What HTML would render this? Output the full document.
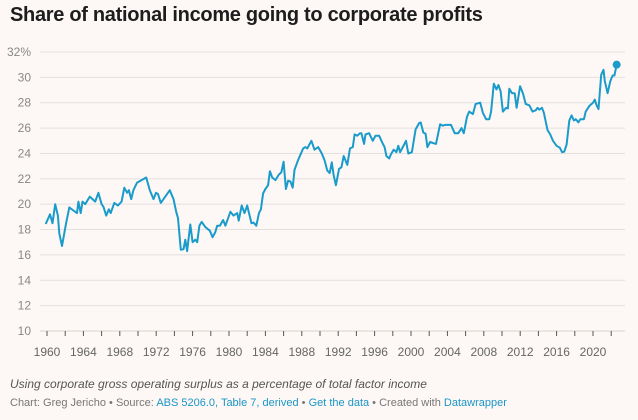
<!DOCTYPE html>
<html><head><meta charset="utf-8"><style>
body{margin:0;background:#fdf8f5;font-family:"Liberation Sans",sans-serif;}
#wrap{position:relative;width:638px;height:420px;overflow:hidden;background:#fdf8f5;}
h1{position:absolute;left:10px;top:4px;margin:0;font-size:20px;font-weight:bold;color:#1d1d1d;letter-spacing:-0.3px;}
.cap{position:absolute;left:10px;top:377px;font-size:12px;font-style:italic;color:#555;}
.credit{position:absolute;left:10px;top:397px;font-size:11px;color:#777;}
.credit a{color:#1b96c6;text-decoration:none;}
</style></head><body>
<div id="wrap">
<h1>Share of national income going to corporate profits</h1>
<svg id="chart" width="638" height="420" style="position:absolute;left:0;top:0"></svg>
<div class="cap">Using corporate gross operating surplus as a percentage of total factor income</div>
<div class="credit">Chart: Greg Jericho • Source: <a>ABS 5206.0, Table 7, derived</a> • <a>Get the data</a> • Created with <a>Datawrapper</a></div>
</div>
<script>
const years=[1959.86,1960.33,1960.6,1960.9,1961.2,1961.35,1961.65,1962.1,1962.45,1962.9,1963.3,1963.45,1963.7,1963.9,1964.2,1964.7,1965.3,1965.65,1966.0,1966.2,1966.5,1966.8,1967.0,1967.4,1967.8,1968.2,1968.5,1968.8,1969.0,1969.25,1969.5,1969.9,1970.4,1970.9,1971.3,1971.7,1971.98,1972.2,1972.5,1973.0,1973.5,1973.9,1974.2,1974.4,1974.7,1975.0,1975.2,1975.4,1975.75,1976.0,1976.3,1976.5,1976.75,1977.0,1977.4,1977.9,1978.2,1978.5,1978.7,1979.0,1979.35,1979.6,1980.15,1980.5,1980.9,1981.07,1981.4,1981.7,1982.0,1982.2,1982.47,1982.7,1983.0,1983.3,1983.5,1983.75,1984.0,1984.3,1984.5,1984.75,1985.1,1985.5,1985.75,1986.0,1986.25,1986.5,1986.75,1987.0,1987.2,1987.6,1988.15,1988.4,1988.6,1989.05,1989.4,1989.8,1990.2,1990.5,1990.8,1991.07,1991.3,1991.5,1991.75,1992.1,1992.35,1992.6,1993.0,1993.3,1993.6,1993.8,1994.1,1994.4,1994.55,1994.85,1995.0,1995.4,1995.8,1996.1,1996.5,1996.85,1997.1,1997.3,1997.6,1997.8,1998.1,1998.4,1998.6,1998.8,1999.1,1999.45,1999.7,2000.1,2000.5,2000.9,2001.07,2001.35,2001.6,2001.8,2002.1,2002.5,2002.75,2003.2,2003.45,2003.8,2004.4,2004.8,2005.2,2005.55,2005.8,2006.15,2006.4,2006.8,2007.1,2007.6,2007.9,2008.25,2008.6,2008.8,2009.1,2009.4,2009.6,2009.85,2010.1,2010.45,2010.65,2010.8,2011.1,2011.4,2011.6,2011.99,2012.3,2012.6,2013.0,2013.35,2013.7,2013.9,2014.1,2014.4,2014.6,2015.0,2015.3,2015.6,2016.0,2016.35,2016.6,2016.85,2017.1,2017.4,2017.65,2017.9,2018.1,2018.4,2018.6,2019.0,2019.2,2019.6,2020.0,2020.2,2020.4,2020.6,2020.9,2021.15,2021.3,2021.6,2021.9,2022.15,2022.35,2022.6];
const shares=[18.44,19.2,18.5,20.0,19.1,17.7,16.7,18.5,19.75,19.5,19.3,20.2,19.3,20.2,20.0,20.6,20.2,20.9,20.0,19.8,19.1,19.6,19.3,20.1,19.9,20.2,21.3,20.9,21.1,20.4,21.1,21.7,21.9,22.1,21.1,20.4,20.9,20.8,20.1,20.6,21.1,20.4,19.4,18.9,16.4,16.45,17.2,16.3,18.4,17.0,17.2,17.0,18.3,18.6,18.2,17.9,17.4,17.8,18.3,18.3,18.75,18.3,19.4,19.1,19.3,18.7,19.9,19.3,19.9,19.3,18.5,18.55,18.3,19.3,19.6,20.85,21.2,21.5,22.6,22.1,21.9,22.35,22.5,23.35,21.2,21.85,21.8,21.3,22.7,23.5,24.4,24.5,24.4,25.0,24.3,24.5,24.0,23.45,22.65,22.45,23.3,22.3,21.5,22.8,22.9,23.8,23.1,24.4,24.5,25.5,25.4,25.6,25.6,24.75,25.5,25.6,25.0,25.4,25.4,24.85,24.5,23.8,23.6,23.95,24.3,24.1,24.6,24.1,24.5,25.0,24.0,24.1,25.9,26.4,26.45,25.65,25.55,24.5,24.9,24.8,24.75,26.3,26.2,26.25,26.25,25.6,25.6,26.0,25.6,26.9,27.3,27.1,27.9,28.0,27.2,26.7,26.7,27.3,29.5,29.05,29.4,28.9,27.3,27.6,27.55,29.1,28.75,28.75,27.6,29.3,28.75,27.9,27.8,27.3,27.4,27.6,27.45,27.6,27.2,25.85,25.5,25.0,24.6,24.45,24.1,24.15,24.7,26.6,27.0,26.6,26.7,26.45,26.7,26.7,27.3,27.75,28.0,28.25,27.8,27.5,30.2,30.6,29.7,28.75,29.7,30.15,30.15,31.0];
const yTicks=[10,12,14,16,18,20,22,24,26,28,30,32];
const xTickLabels=[1960,1964,1968,1972,1976,1980,1984,1988,1992,1996,2000,2004,2008,2012,2016,2020];
const xMinor=[1960,1962,1964,1966,1968,1970,1972,1974,1976,1978,1980,1982,1984,1986,1988,1990,1992,1994,1996,1998,2000,2002,2004,2006,2008,2010,2012,2014,2016,2018,2020,2022];

const NS='http://www.w3.org/2000/svg';
const svg=document.getElementById('chart');
const X=t=>47+(t-1960)*9.1;
const Y=v=>331-(v-10)*(279/22);
function mk(tag,attrs){const e=document.createElementNS(NS,tag);for(const k in attrs)e.setAttribute(k,attrs[k]);svg.appendChild(e);return e;}
yTicks.forEach(v=>{
  const g=mk('line',{x1:40,x2:625,y1:Y(v),y2:Y(v),stroke:v===10?'#d8d4d0':'#e4e0dd','stroke-width':1});
  
  
  const t=mk('text',{x:31,y:Y(v)+4,'text-anchor':'end','font-size':12,fill:'#888','font-family':'Liberation Sans, sans-serif'});
  t.textContent=v===32?'32%':String(v);
  
  
});
xMinor.forEach(yr=>{
  const l=mk('line',{x1:X(yr),x2:X(yr),y1:331,y2:336,stroke:'#555','stroke-width':1});
  
  
});
xTickLabels.forEach(yr=>{
  const t=mk('text',{x:X(yr),y:356,'text-anchor':'middle','font-size':12,fill:'#666','font-family':'Liberation Sans, sans-serif'});
  t.textContent=String(yr);
  
  
});
const d=years.map((t,i)=>(i?'L':'M')+X(t).toFixed(1)+','+Y(shares[i]).toFixed(1)).join('');
const p=mk('path',{d:d,fill:'none',stroke:'#1a9bcb','stroke-width':2,'stroke-linejoin':'round'});


const n=years.length-1;
const c=mk('circle',{cx:X(years[n]),cy:Y(shares[n]),r:4,fill:'#1a9bcb'});


</script>
</body></html>
